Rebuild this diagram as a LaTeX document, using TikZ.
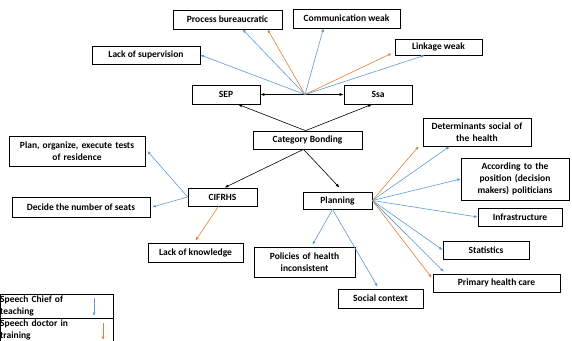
\documentclass[tikz,border=0pt]{standalone}
\usepackage{fontspec}
\setmainfont{Carlito}
\usetikzlibrary{arrows.meta}
\definecolor{speechblue}{HTML}{5B9BD5}
\definecolor{speechorange}{HTML}{ED7D31}
\begin{document}
\begin{tikzpicture}[x=1pt, y=-1pt,
    font=\fontsize{9.5}{12}\selectfont\bfseries,
    box/.style={draw, line width=0.7pt, inner sep=1pt, align=center},
    blackarr/.style={line width=0.6pt, -{Latex[length=4pt,width=3pt]}},
    bluearr/.style={speechblue, line width=0.6pt, -{Latex[length=3.5pt,width=3pt]}},
    orangearr/.style={speechorange, line width=0.6pt, -{Latex[length=3.5pt,width=3pt]}}]
  \useasboundingbox (0,0) rectangle (572,340);

  % top row
  \node[box, minimum width=109pt, minimum height=19pt] (proc) at (227.5,19.5) {Process bureaucratic};  % box
  \node[box, minimum width=107pt, minimum height=19pt] (comm) at (346.5,18.5) {Communication weak};  % box
  \node[box, minimum width=108pt, minimum height=18pt] (lacksup) at (146,55) {Lack of supervision};  % box
  \node[box, minimum width=87pt, minimum height=16pt] (link) at (438.5,47) {Linkage weak};  % box

  % SEP and Ssa
  \node[box, minimum width=68pt, minimum height=19pt] (sep) at (226,94.5) {SEP};  % box
  \node[box, minimum width=68pt, minimum height=19pt] (ssa) at (378,94.5) {Ssa};  % box
  \coordinate (hub) at (305,94.5);  % meeting point
  \draw[line width=0.6pt, {Latex[length=4pt,width=3pt]}-{Latex[length=4pt,width=3pt]}] (sep) -- (ssa);  % double arrow

  % arrows from the meeting point
  \draw[bluearr] (hub) -- (lacksup.east);
  \draw[bluearr] (hub) -- ([xshift=15pt]proc.south);
  \draw[orangearr] (hub) -- ([xshift=40pt]proc.south);
  \draw[bluearr] (hub) -- ([xshift=-23pt]comm.south);
  \draw[orangearr] (hub) -- ([xshift=-3pt,yshift=2pt]link.south west);
  \draw[bluearr] (hub) -- ([xshift=-14pt]link.south);

  % centre
  \node[box, minimum width=109pt, minimum height=18pt] (cat) at (307.5,140) {Category Bonding};  % box
  \draw[blackarr] ([xshift=-2pt]cat.north) -- ([xshift=12pt]sep.south);
  \draw[blackarr] ([xshift=-2pt]cat.north) -- ([xshift=-6pt]ssa.south);

  % CIFRHS
  \node[box, minimum width=69pt, minimum height=18pt] (cif) at (222.5,197) {CIFRHS};  % box
  \draw[blackarr] ([xshift=-4pt]cat.south) -- ([xshift=2pt]cif.north);
  \node[box, text width=134pt, minimum height=30pt] (plnorg) at (77,151) {Plan, organize, execute tests\\of residence};  % box
  \node[box, minimum width=138pt, minimum height=20pt] (seats) at (81,207) {Decide the number of seats};  % box
  \node[box, minimum width=95pt, minimum height=19pt] (lackknow) at (195.5,252.5) {Lack of knowledge};  % box
  \draw[bluearr] (cif.west) -- ([xshift=2pt]plnorg.east);
  \draw[bluearr] (cif.west) -- ([xshift=2pt]seats.east);
  \draw[orangearr] ([xshift=-4pt]cif.south) -- ([yshift=2pt]lackknow.north);

  % Planning
  \node[box, minimum width=69pt, minimum height=17pt] (plan) at (337.5,200.5) {Planning};  % box
  \draw[blackarr] ([xshift=-4pt]cat.south) -- ([xshift=2pt,yshift=4pt]plan.north);
  \node[box, text width=106pt, minimum height=28pt] (determ) at (477,132) {Determinants social of\\the health};  % box
  \node[box, text width=106pt, minimum height=42pt] (accord) at (515,179) {According to the\\position (decision\\makers) politicians};  % box
  \node[box, minimum width=84pt, minimum height=18pt] (infra) at (520,217) {Infrastructure};  % box
  \node[box, minimum width=86pt, minimum height=18pt] (stats) at (486,250) {Statistics};  % box
  \node[box, minimum width=127pt, minimum height=18pt] (primary) at (496.5,283) {Primary health care};  % box
  \node[box, text width=99pt, minimum height=30pt] (policies) at (304.5,262) {Policies of health\\inconsistent};  % box
  \node[box, minimum width=85pt, minimum height=19pt] (social) at (380.5,298.5) {Social context};  % box
  \draw[orangearr] (plan.east) -- ([xshift=-4pt]determ.south west);
  \draw[bluearr] (plan.east) -- ([xshift=27pt]determ.south west);
  \draw[bluearr] (plan.east) -- (accord.west);
  \draw[bluearr] (plan.east) -- (infra.west);
  \draw[bluearr] (plan.east) -- (stats.west);
  \draw[bluearr] (plan.east) -- ([xshift=11pt,yshift=2pt]primary.north west);
  \draw[orangearr] (plan.east) -- ([xshift=-1pt,yshift=-4pt]primary.north west);
  \draw[bluearr] ([xshift=-5pt]plan.south) -- ([xshift=8pt,yshift=2pt]policies.north);
  \draw[bluearr] ([xshift=-5pt]plan.south) -- ([xshift=-3pt,yshift=2pt]social.north);

  % legend
  \draw[line width=0.7pt] (0,294) rectangle (113,345);  % legend frame
  \draw[line width=0.7pt] (0,318) -- (113,318);  % legend divider
  \node[anchor=north west, text width=85pt, align=left, inner sep=0pt] (legblue) at (0,296) {Speech Chief of\\teaching};  % legend label
  \node[anchor=north west, text width=85pt, align=left, inner sep=0pt] (legorange) at (0,320) {Speech doctor in\\training};  % legend label
  \coordinate (bluetop) at (94,298);
  \coordinate (bluebot) at (94,316);
  \coordinate (orangetop) at (103,323);
  \coordinate (orangebot) at (103,340);
  \draw[bluearr] (bluetop) -- (bluebot);  % legend arrow
  \draw[orangearr] (orangetop) -- (orangebot);  % legend arrow
\end{tikzpicture}
\end{document}
